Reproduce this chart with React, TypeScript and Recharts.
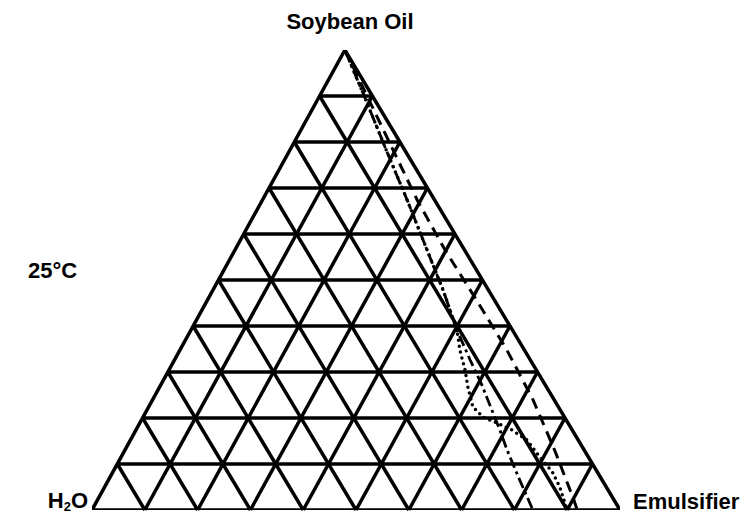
import { ComposedChart, Line, XAxis, YAxis, ReferenceLine } from "recharts";

// Phase boundaries at 25°C, given as weight % soybean oil and % emulsifier
// (water is the remainder).
const DASHED_OIL = [100, 89.1, 78.3, 67.4, 56.5, 45.7, 34.8, 23.9, 13, 2.2, 0];
const DASHED_EMUL = [0, 9.8, 19.5, 29.3, 39.8, 50.9, 61.9, 72.1, 81.4, 90.2, 91.9];

const DASHDOT_OIL = [100, 89.1, 78.3, 67.4, 56.5, 47.8, 39.1, 32.6, 27.2, 17.4, 13, 6.5, 0];
const DASHDOT_EMUL = [0, 9.2, 18.2, 27.4, 36.4, 43.6, 50.4, 56, 60.8, 68.9, 72.4, 77.9, 83.5];

const DOTTED_OIL = [100, 89.1, 78.3, 67.4, 56.5, 47.8, 39.1, 34.8, 30.4, 26.7, 22.4, 20.2, 19.1, 17.4, 15.2, 11.5, 8.3, 5, 0];
const DOTTED_EMUL = [0, 9.2, 18.2, 27.4, 36.4, 43.6, 50.4, 53, 56.1, 58.4, 61.4, 64.4, 67.2, 71.2, 75.1, 79.3, 83.2, 86.2, 90];

// grid every 10 %
const GRID_STEPS = [10, 20, 30, 40, 50, 60, 70, 80, 90];

const APEX_SHIFT = 0.479; // horizontal position of the oil corner along the base

// ternary (oil, emulsifier) -> plot coordinates
const project = (oil: number, emul: number) => ({
  x: emul / 100 + (APEX_SHIFT * oil) / 100,
  y: oil / 100,
});

const toSeries = (oil: number[], emul: number[]) => oil.map((o, i) => project(o, emul[i]));

const dashed = toSeries(DASHED_OIL, DASHED_EMUL);
const dashDot = toSeries(DASHDOT_OIL, DASHDOT_EMUL);
const dotted = toSeries(DOTTED_OIL, DOTTED_EMUL);

const outline = [project(0, 0), project(100, 0), project(0, 100), project(0, 0), project(100, 0)];

// three families of grid lines: constant oil, constant emulsifier, constant water
const gridSegments = GRID_STEPS.flatMap((k) => [
  [project(k, 0), project(k, 100 - k)],
  [project(0, k), project(100 - k, k)],
  [project(100 - k, 0), project(0, 100 - k)],
]);

const labelStyle = {
  fontFamily: "'Liberation Sans', Arial, Helvetica, sans-serif",
  fontWeight: 700,
  fontSize: 22,
  fill: "#000",
};

export default function App() {
  return (
    <div style={{ position: "absolute", left: 0, top: 0, width: 748, height: 515, background: "#fff" }}>
      <ComposedChart width={748} height={515} margin={{ top: 50, right: 128, bottom: 5, left: 92 }}>
        <XAxis type="number" dataKey="x" domain={[0, 1]} hide allowDataOverflow />
        <YAxis type="number" dataKey="y" domain={[0, 1]} hide allowDataOverflow />
        {gridSegments.map((seg, i) => (
          <ReferenceLine
            key={i}
            segment={seg}
            stroke="#000"
            strokeWidth={3.5}
            ifOverflow="visible"
          />
        ))}
        <Line
          data={outline}
          dataKey="y"
          type="linear"
          stroke="#000"
          strokeWidth={3.5}
          strokeLinejoin="miter"
          dot={false}
          activeDot={false}
          isAnimationActive={false}
        />
        <Line
          data={dashed}
          dataKey="y"
          type="linear"
          stroke="#000"
          strokeWidth={3}
          strokeDasharray="11 7"
          dot={false}
          activeDot={false}
          isAnimationActive={false}
        />
        <Line
          data={dashDot}
          dataKey="y"
          type="linear"
          stroke="#000"
          strokeWidth={2.8}
          strokeDasharray="11 4 3 4"
          dot={false}
          activeDot={false}
          isAnimationActive={false}
        />
        <Line
          data={dotted}
          dataKey="y"
          type="linear"
          stroke="#000"
          strokeWidth={3.5}
          strokeDasharray="0 6"
          strokeLinecap="round"
          dot={false}
          activeDot={false}
          isAnimationActive={false}
        />
      </ComposedChart>
      <svg width={748} height={515} style={{ position: "absolute", left: 0, top: 0, pointerEvents: "none" }}>
        <text x={350} y={29} textAnchor="middle" style={labelStyle}>
          Soybean Oil
        </text>
        <text x={28} y={278} style={labelStyle}>
          25°C
        </text>
        <text x={88} y={508} textAnchor="end" style={labelStyle}>
          H<tspan fontSize={13} dy={3}>2</tspan>
          <tspan dy={-3}>O</tspan>
        </text>
        <text x={633} y={509} style={labelStyle}>
          Emulsifier
        </text>
      </svg>
    </div>
  );
}
